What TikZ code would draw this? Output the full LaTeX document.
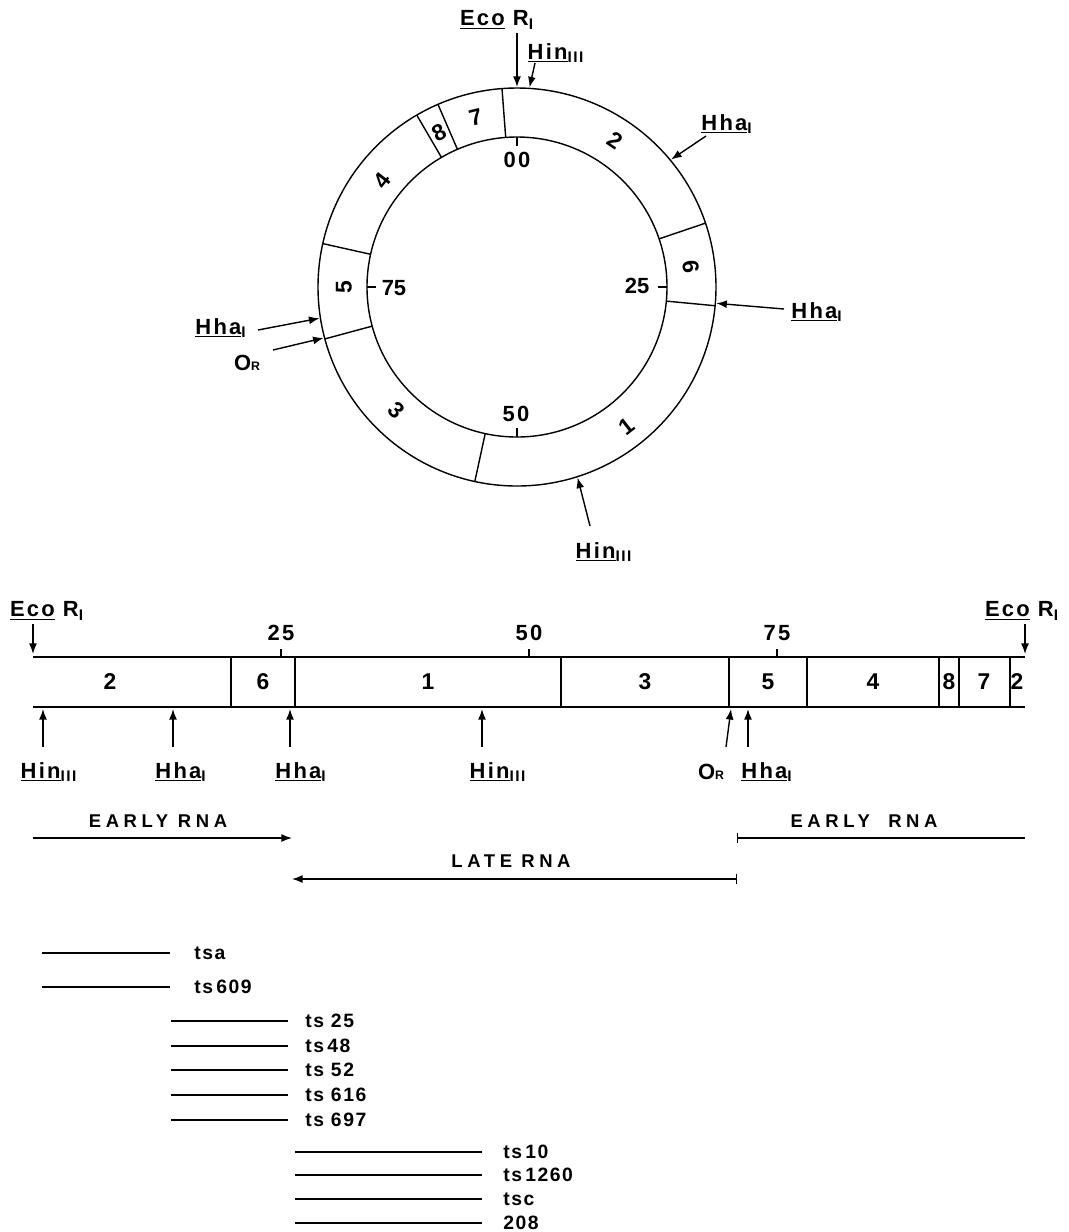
\documentclass[tikz,border=0pt]{standalone}
\usepackage{fontspec}
\setmainfont{Liberation Sans}
\usepackage{tikz}
\usetikzlibrary{arrows.meta,calc}
\newcommand{\enz}[2]{\underline{#1}\textsubscript{#2}}

\begin{document}
\begin{tikzpicture}[x=0.02cm,y=-0.02cm,>={Latex[length=6pt,width=4.5pt]},font=\bfseries\fontsize{13}{15}\selectfont]
\tikzset{
 seg/.style={line width=0.8pt},
 a/.style={->,line width=0.8pt},
 lab/.style={font=\bfseries\fontsize{12.5}{15}\selectfont\addfontfeature{LetterSpace=10}},
 rna/.style={font=\bfseries\fontsize{10.5}{12}\selectfont\addfontfeature{LetterSpace=25}},
 mut/.style={anchor=west,inner sep=0pt,font=\bfseries\fontsize{11}{13}\selectfont\addfontfeature{LetterSpace=8}}
}
\useasboundingbox (0,0) rectangle (1069,1232);

% circular map
\coordinate (c) at (517,287);
\draw[seg] (c) circle[radius=199];
\draw[seg] (c) circle[radius=150];
\foreach \p in {19.8,26.5,53.4,70.8,78.5,91.6,93.5,98.8}
  \draw[seg] ($(c)+({3.6*\p-90}:150)$) -- ($(c)+({3.6*\p-90}:199)$);
\foreach \p/\r/\s/\rot in {9.4/177/2/-34,23.15/175/6/-83,39.4/177/1/38,62.3/172/3/-44,75/173/5/90,85.6/172/4/52,92.55/173/8/27,96.2/175/7/14}
  \node[rotate=\rot] (ring\s) at ($(c)+({3.6*\p-90}:\r)$) {\s};
\foreach \p in {0,25,50,75}
  \draw[seg] ($(c)+({3.6*\p-90}:150)$) -- ($(c)+({3.6*\p-90}:141)$);
\node[lab] (t00) at (517,160) {00};
\node (t25) at (637,286) {\fontsize{12.5}{15}\selectfont 25};
\node[lab] (t50) at (516,414) {50};
\node (t75) at (394,288) {\fontsize{12.5}{15}\selectfont 75};

\node[lab] (ecoC) at (497,20) {\underline{Eco} R\textsubscript{I}};
\node[lab] (hinC1) at (556,53) {\enz{Hin}{III}};
\node[lab] (hhaC1) at (727,124) {\enz{Hha}{I}};
\node[lab] (hhaC2) at (817,312) {\enz{Hha}{I}};
\node[lab] (hhaC3) at (221,328) {\enz{Hha}{I}};
\node[lab] (orC) at (247,363) {O{\scriptsize R}};
\node[lab] (hinC2) at (604,552) {\enz{Hin}{III}};
\foreach \n/\p/\tx/\ty in {ecoC/0/517/33,hinC1/1.0/535/63,hhaC1/14/706/136,hhaC2/26.3/784/309,hinC2/45.1/590/526,orC/70.9/273/350,hhaC3/72.5/258/330}{
  \coordinate (s-\n) at ($(c)+({3.6*\p-90}:200)$);
  \coordinate (t-\n) at (\tx,\ty);
  \draw[a] (t-\n) -- (s-\n);
}

% linear map
\draw[seg] (33,657) -- (1025,657);
\draw[seg] (33,707) -- (1025,707);
\foreach \x in {231,295,561,729,807,939,959,1010}
  \draw[seg] (\x,657) -- (\x,707);
\foreach \x/\s/\n in {110/2/l2a,263/6/l6,428/1/l1,645/3/l3,768/5/l5,873/4/l4,949/8/l8,984/7/l7,1017/2/l2b}
  \node (\n) at (\x,682) {\s};
\foreach \x/\k in {281/25,529/50,777/75}{
  \draw[seg] (\x,657) -- (\x,649);
  \node[lab] (lt\k) at (\x,633) {\k};
}

\node[lab] (ecoL1) at (47,611) {\underline{Eco} R\textsubscript{I}};
\node[lab] (ecoL2) at (1022,611) {\underline{Eco} R\textsubscript{I}};
\coordinate (t-ecoL1) at (33,624); \coordinate (s-ecoL1) at (33,654);
\coordinate (t-ecoL2) at (1025,624); \coordinate (s-ecoL2) at (1025,654);
\draw[a] (t-ecoL1) -- (s-ecoL1);
\draw[a] (t-ecoL2) -- (s-ecoL2);

\node[lab] (hinL1) at (49,772) {\enz{Hin}{III}};
\node[lab] (hhaL1) at (181,772) {\enz{Hha}{I}};
\node[lab] (hhaL2) at (301,772) {\enz{Hha}{I}};
\node[lab] (hinL2) at (498,772) {\enz{Hin}{III}};
\node[lab] (orL) at (711,772) {O{\scriptsize R}};
\node[lab] (hhaL3) at (767,772) {\enz{Hha}{I}};
\foreach \n/\sx/\tx in {hinL1/43/43,hhaL1/173/173,hhaL2/290/290,hinL2/482/482,orL/731/726,hhaL3/748/748}{
  \coordinate (s-\n) at (\sx,709);
  \coordinate (t-\n) at (\tx,747);
  \draw[a] (t-\n) -- (s-\n);
}

% transcripts
\node[rna] (early1) at (158,821) {EARLY RNA};
\node[rna] (early2) at (864,821) {EARLY\quad RNA};
\node[rna] (late) at (511,861) {LATE\enspace RNA};
\coordinate (e1a) at (33,838); \coordinate (e1b) at (292,838);
\coordinate (e2a) at (737,838); \coordinate (e2b) at (1025,838);
\coordinate (la) at (737,879); \coordinate (lb) at (292,879);
\draw[a] (e1a) -- (e1b);
\draw[seg,{Bar[width=6pt]}-] (e2a) -- (e2b);
\draw[seg,{Bar[width=6pt]}->] (la) -- (lb);

% ts mutants
\foreach \y/\m [count=\i] in {953/tsa,987/ts\,609}{
  \draw[seg] (42,\y) -- (170,\y);
  \node[mut] (mA\i) at (194,\y) {\m};
}
\foreach \y/\m [count=\i] in {1021/ts 25,1046/ts\,48,1070/ts 52,1095/ts 616,1120/ts 697}{
  \draw[seg] (171,\y) -- (288,\y);
  \node[mut] (mB\i) at (305,\y) {\m};
}
\foreach \y/\m [count=\i] in {1152/ts\,10,1175/ts\,1260,1199/tsc,1223/208}{
  \draw[seg] (295,\y) -- (482,\y);
  \node[mut] (mC\i) at (503,\y) {\m};
}
\end{tikzpicture}
\end{document}
